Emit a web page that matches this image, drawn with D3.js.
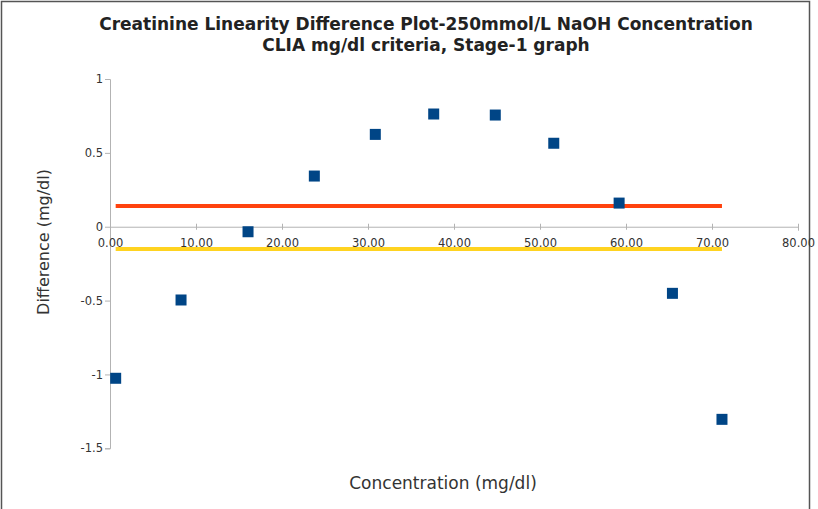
<!DOCTYPE html>
<html><head><meta charset="utf-8">
<script src="https://cdn.jsdelivr.net/npm/d3@7"></script>
<style>body{margin:0;background:#fff}svg{display:block}</style>
</head><body><svg id="c" width="818" height="509"></svg>
<script>
const concentration = [0.66, 8.26, 16.05, 23.76, 30.85, 37.64, 44.8, 51.6, 59.2, 65.4, 71.16];
const difference = [-1.026, -0.496, -0.034, 0.343, 0.625, 0.763, 0.756, 0.565, 0.16, -0.451, -1.304];
const upperLimit = 0.14;
const lowerLimit = -0.15;
const xTicks = [0, 10, 20, 30, 40, 50, 60, 70, 80];
const yTicks = [1, 0.5, 0, -0.5, -1, -1.5];
const titleLines = ["Creatinine Linearity Difference Plot-250mmol/L NaOH Concentration", "CLIA mg/dl criteria, Stage-1 graph"];

const svg = d3.select("#c");
svg.append("rect").attr("x",1.5).attr("y",1.5).attr("width",808).attr("height",520)
  .attr("fill","#fff").attr("stroke","#555").attr("stroke-width",1.5);

const x = d3.scaleLinear().domain([0,80]).range([110,798]);
const y = d3.scaleLinear().domain([-1.5,1]).range([448.3,79]);

const font = "'DejaVu Sans', sans-serif";
const axisColor = "#b3b3b3";

// Y axis
const yAxis = svg.append("g").attr("transform","translate(110,0)")
  .call(d3.axisLeft(y).tickValues(yTicks).tickSize(5).tickFormat(d=>String(d)));
yAxis.select(".domain").attr("stroke",axisColor);
yAxis.selectAll(".tick line").attr("stroke",axisColor);
yAxis.selectAll(".tick text").attr("fill","#333").style("font-family",font).style("font-size","11.5px").attr("x",-7);

// X axis at y=0
const xAxis = svg.append("g").attr("transform",`translate(0,${y(0)})`)
  .call(d3.axisBottom(x).tickValues(xTicks).tickSizeInner(4).tickSizeOuter(4).tickFormat(d3.format(".2f")));
xAxis.select(".domain").attr("stroke",axisColor);
xAxis.selectAll(".tick line").attr("stroke",axisColor).attr("y1",-3).attr("y2",3);
xAxis.selectAll(".tick text").attr("fill","#333").style("font-family",font).style("font-size","11.5px").attr("y",12);

// limit lines
const xmin = d3.min(concentration), xmax = d3.max(concentration);
svg.append("line").attr("x1",x(xmin)).attr("x2",x(xmax)).attr("y1",y(upperLimit)).attr("y2",y(upperLimit))
  .attr("stroke","#ff420e").attr("stroke-width",4);
svg.append("line").attr("x1",x(xmin)).attr("x2",x(xmax)).attr("y1",y(lowerLimit)).attr("y2",y(lowerLimit))
  .attr("stroke","#ffd320").attr("stroke-width",4);

// points
const s = 11;
svg.append("g").selectAll("rect").data(concentration).join("rect")
  .attr("x",(d)=>x(d)-s/2).attr("y",(d,i)=>y(difference[i])-s/2)
  .attr("width",s).attr("height",s).attr("fill","#004586");

// title
svg.append("g").selectAll("text").data(titleLines).join("text")
  .attr("x",426).attr("y",(d,i)=>30+i*21).attr("text-anchor","middle")
  .style("font-family",font).style("font-weight","bold").style("font-size","17px").attr("fill","#222")
  .text(d=>d);

// axis titles
svg.append("text").attr("x",443).attr("y",489).attr("text-anchor","middle")
  .style("font-family",font).style("font-size","17px").attr("fill","#333").text("Concentration (mg/dl)");
svg.append("text").attr("transform","translate(49,242) rotate(-90)").attr("text-anchor","middle")
  .style("font-family",font).style("font-size","16px").attr("fill","#333").text("Difference (mg/dl)");
</script></body></html>
